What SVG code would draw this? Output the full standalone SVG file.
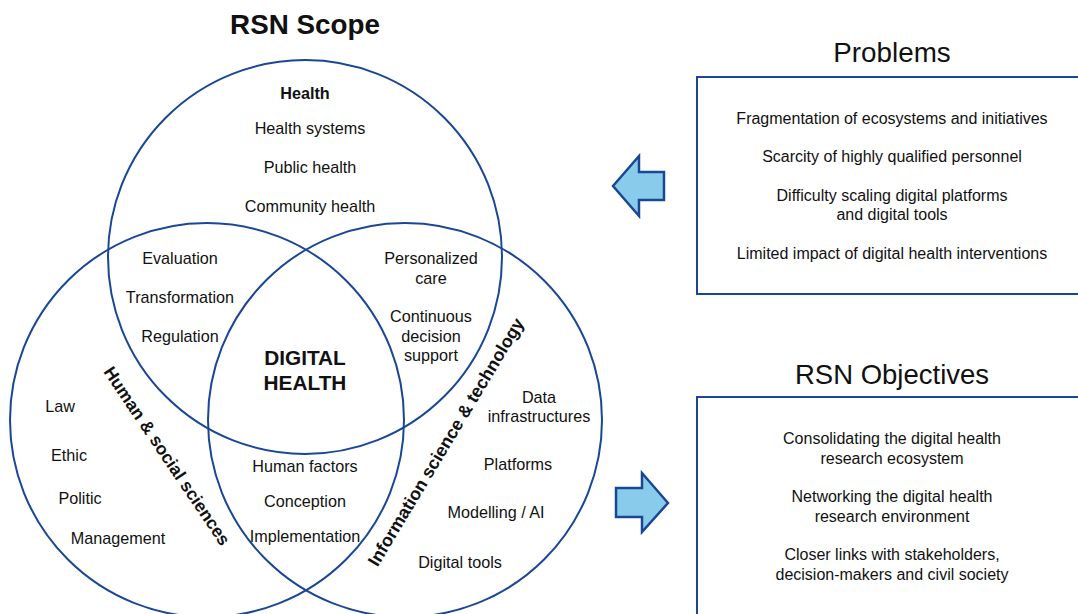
<svg xmlns="http://www.w3.org/2000/svg" width="1078" height="614" viewBox="0 0 1078 614">
<style>
text{font-family:"Liberation Sans",Arial,sans-serif;fill:#111;text-anchor:middle}
.t{font-size:16.2px}
.b{font-weight:bold}
.c{fill:none;stroke:#1a4795;stroke-width:2}
.box{fill:#fff;stroke:#1a4795;stroke-width:2}
.arr{fill:#88cbea;stroke:#1a4795;stroke-width:2.5;stroke-linejoin:miter}
.bx{font-size:16px}
</style>
<rect width="1078" height="614" fill="#fff"/>
<text x="305" y="34" class="b" style="font-size:27.8px">RSN Scope</text>
<g id="circles">
<circle class="c" cx="305" cy="257" r="197"/>
<circle class="c" cx="207" cy="420" r="197"/>
<circle class="c" cx="405" cy="420" r="197"/>
</g>
<g id="health">
<text x="305" y="99" class="t b">Health</text>
<text x="310" y="134" class="t">Health systems</text>
<text x="310" y="173" class="t">Public health</text>
<text x="310" y="212" class="t">Community health</text>
</g>
<g id="health-hss">
<text x="180" y="264" class="t">Evaluation</text>
<text x="180" y="303" class="t">Transformation</text>
<text x="180" y="342" class="t">Regulation</text>
</g>
<g id="health-ist">
<text x="431" y="264" class="t">Personalized</text>
<text x="431" y="284" class="t">care</text>
<text x="431" y="322" class="t">Continuous</text>
<text x="431" y="342" class="t">decision</text>
<text x="431" y="361" class="t">support</text>
</g>
<g id="digital-health">
<text x="305" y="365" class="b" style="font-size:20.8px">DIGITAL</text>
<text x="305" y="390" class="b" style="font-size:20.8px">HEALTH</text>
</g>
<g id="hss">
<text x="167" y="462" class="b" style="font-size:17.6px" transform="rotate(56 167 456)">Human &amp; social sciences</text>
<text x="60" y="412" class="t">Law</text>
<text x="69" y="461" class="t">Ethic</text>
<text x="80" y="504" class="t">Politic</text>
<text x="118" y="544" class="t">Management</text>
</g>
<g id="hss-ist">
<text x="305" y="472" class="t">Human factors</text>
<text x="305" y="507" class="t">Conception</text>
<text x="305" y="542" class="t">Implementation</text>
</g>
<g id="ist">
<text x="446" y="448" class="b" style="font-size:17.8px" transform="rotate(-59 446 442)">Information science &amp; technology</text>
<text x="539" y="403" class="t">Data</text>
<text x="539" y="422" class="t">infrastructures</text>
<text x="518" y="470" class="t">Platforms</text>
<text x="496" y="518" class="t">Modelling / AI</text>
<text x="460" y="568" class="t">Digital tools</text>
</g>
<g id="connectors">
<polygon class="arr" points="613,186 639,156 639,172 664,172 664,200 639,200 639,216"/>
<polygon class="arr" points="668,503 642,473 642,488 616,488 616,517 642,517 642,532"/>
</g>
<g id="problems">
<text x="892" y="62" style="font-size:27.8px">Problems</text>
<rect class="box" x="697" y="77" width="400" height="217"/>
<text x="892" y="124" class="bx">Fragmentation of ecosystems and initiatives</text>
<text x="892" y="162" class="bx">Scarcity of highly qualified personnel</text>
<text x="892" y="201" class="bx">Difficulty scaling digital platforms</text>
<text x="892" y="220" class="bx">and digital tools</text>
<text x="892" y="259" class="bx">Limited impact of digital health interventions</text>
</g>
<g id="objectives">
<text x="892" y="384" style="font-size:27.5px">RSN Objectives</text>
<rect class="box" x="697" y="397" width="400" height="240"/>
<text x="892" y="444" class="bx">Consolidating the digital health</text>
<text x="892" y="464" class="bx">research ecosystem</text>
<text x="892" y="502" class="bx">Networking the digital health</text>
<text x="892" y="522" class="bx">research environment</text>
<text x="892" y="560" class="bx">Closer links with stakeholders,</text>
<text x="892" y="580" class="bx">decision-makers and civil society</text>
</g>
</svg>
